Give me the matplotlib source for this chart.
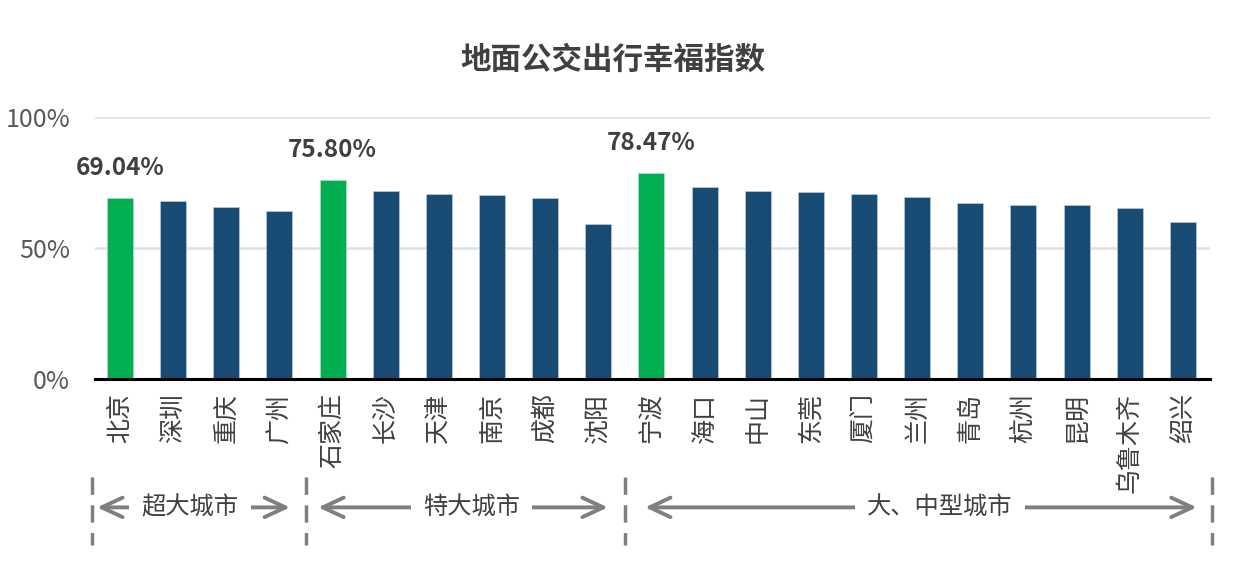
import matplotlib
matplotlib.use('Agg')
import matplotlib.pyplot as plt
import matplotlib.transforms as mtransforms

plt.rcParams['font.family'] = ['Noto Sans CJK SC', 'DejaVu Sans']

# datos
ciudades = ['北京', '深圳', '重庆', '广州', '石家庄', '长沙', '天津', '南京', '成都', '沈阳',
            '宁波', '海口', '中山', '东莞', '厦门', '兰州', '青岛', '杭州', '昆明', '乌鲁木齐', '绍兴']
valores = [69.04, 67.9, 65.8, 64.3, 75.80, 71.7, 70.7, 70.2, 69.0, 59.0,
           78.47, 73.2, 71.7, 71.2, 70.7, 69.5, 67.0, 66.4, 66.4, 65.35, 60.1]
destacadas = ['北京', '石家庄', '宁波']
grupos = ['超大城市', '特大城市', '大、中型城市']
yticks = [0, 50, 100]
ytick_labels = ['0%', '50%', '100%']

verde = '#00b050'
azul = '#174b73'
gris = '#7f7f7f'
texto = '#404040'

fig = plt.figure(figsize=(12.34, 5.68), dpi=100)
ax = fig.add_axes([95 / 1234, 1 - 379 / 568, (1210 - 95) / 1234, (379 - 117) / 568])

x = list(range(len(ciudades)))
colores = [verde if c in destacadas else azul for c in ciudades]
ax.bar(x, valores, width=0.49, color=colores, edgecolor='#c9d6e3', linewidth=0.4, zorder=3)

# etiquetas de las ciudades destacadas
for i, c in enumerate(ciudades):
    if c in destacadas:
        ax.annotate(f'{valores[i]:.2f}%', xy=(i, valores[i]), xytext=(0, 22),
                    textcoords='offset points', ha='center', va='center',
                    fontsize=17.5, fontweight='bold', color=texto)

ax.set_xlim(-0.47, 20.51)
ax.set_ylim(0, 100)
ax.set_yticks(yticks)
ax.set_yticklabels(ytick_labels, fontsize=18, color='#595959')
ax.set_xticks(x)
ax.set_xticklabels(ciudades, rotation=90, fontsize=18, color='#404040', va='top', ha='center')
ax.tick_params(axis='both', length=0)
ax.tick_params(axis='y', pad=18)
ax.tick_params(axis='x', pad=10)

for s in ['top', 'right', 'left']:
    ax.spines[s].set_visible(False)
ax.spines['bottom'].set_color('black')
ax.spines['bottom'].set_linewidth(2.2)
ax.spines['bottom'].set_zorder(4)
ax.grid(axis='y', color='#dde2ea', linewidth=1.8)
ax.set_axisbelow(True)

fig.text(613 / 1234, 1 - 60 / 568, '地面公交出行幸福指数', ha='center', va='center',
         fontsize=22, fontweight='bold', color=texto)

# grupos de ciudades debajo del eje
trans = mtransforms.blended_transform_factory(ax.transData, ax.transAxes)
separadores = [-0.53, 3.5, 9.5, 20.55]
for s in separadores:
    ax.plot([s, s], [-0.375, -0.635], transform=trans, color=gris, lw=2.5,
            linestyle=(0, (5, 3)), clip_on=False)

flechas = [(-0.43, 3.2), (3.73, 9.18), (9.88, 20.26)]
centros = [1.32, 6.62, 15.43]
y_flecha = -0.49
for (a, b), cx, g in zip(flechas, centros, grupos):
    ax.annotate('', xy=(a, y_flecha), xytext=(b, y_flecha), xycoords=trans, textcoords=trans,
                arrowprops=dict(arrowstyle='<->,head_length=1.5,head_width=0.7', color=gris,
                                lw=2.8, shrinkA=0, shrinkB=0),
                annotation_clip=False)
    ax.text(cx, y_flecha, g, transform=trans, ha='center', va='center', fontsize=17.5,
            color=texto, zorder=5,
            bbox=dict(boxstyle='square,pad=0.5', fc='white', ec='none'))

fig.savefig('out.png', dpi=100)
